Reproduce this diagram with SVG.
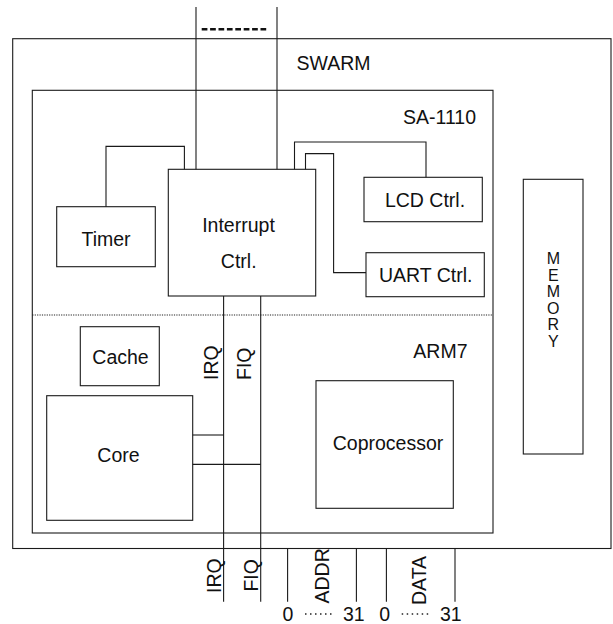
<svg xmlns="http://www.w3.org/2000/svg" width="613" height="624" viewBox="0 0 613 624">
<style>
.box{fill:none;stroke:#1a1a1a;stroke-width:1.1}
.ln{fill:none;stroke:#1a1a1a;stroke-width:1.1}
.t{font-family:"Liberation Sans",Arial,Helvetica,sans-serif;font-size:19.5px;fill:#111}
.m{text-anchor:middle}
.mem{font-family:"Liberation Sans",Arial,Helvetica,sans-serif;font-size:16px;fill:#111;text-anchor:middle}
</style>
<rect width="613" height="624" fill="#fff"/>
<g id="swarm">
<rect class="box" x="12.7" y="38.7" width="598.3" height="509.8"/>
<text class="t" x="296.5" y="70">SWARM</text>
</g>
<g id="sa1110">
<rect class="box" x="32.3" y="90.3" width="460.7" height="442.7"/>
<text class="t" x="476" y="124" text-anchor="end">SA-1110</text>
</g>
<g id="arm7">
<line x1="32.3" y1="315" x2="493" y2="315" stroke="#222" stroke-width="1.1" stroke-dasharray="1.2 1.2"/>
<text class="t" x="467.5" y="358.3" text-anchor="end">ARM7</text>
</g>
<g id="interrupt">
<rect class="box" x="168.3" y="169.3" width="147.4" height="126.7"/>
<text class="t m" x="238.5" y="231.7">Interrupt</text>
<text class="t m" x="238.7" y="267.7">Ctrl.</text>
</g>
<g id="timer">
<rect class="box" x="56.7" y="206.7" width="98.6" height="60"/>
<text class="t m" x="106" y="246">Timer</text>
</g>
<g id="lcd">
<rect class="box" x="364" y="177.3" width="118.3" height="44.4"/>
<text class="t m" x="425" y="207">LCD Ctrl.</text>
</g>
<g id="uart">
<rect class="box" x="366" y="252.7" width="118.3" height="44"/>
<text class="t m" x="425.7" y="281.7">UART Ctrl.</text>
</g>
<g id="cache">
<rect class="box" x="80.3" y="326.7" width="79" height="59"/>
<text class="t m" x="120.5" y="364">Cache</text>
</g>
<g id="core">
<rect class="box" x="46.7" y="395.7" width="146" height="124.6"/>
<text class="t m" x="118.5" y="461.7">Core</text>
</g>
<g id="coprocessor">
<rect class="box" x="316" y="380.7" width="137.3" height="127.6"/>
<text class="t m" x="388" y="450">Coprocessor</text>
</g>
<g id="memory">
<rect class="box" x="523.3" y="179.3" width="59.7" height="274.7"/>
<text class="mem" x="553.3" y="264">M</text>
<text class="mem" x="553.3" y="280.5">E</text>
<text class="mem" x="553.3" y="297">M</text>
<text class="mem" x="553.3" y="313.7">O</text>
<text class="mem" x="553.3" y="330.3">R</text>
<text class="mem" x="553.3" y="347">Y</text>
</g>
<g id="connectors">
<path class="ln" d="M196,7 V169.3"/>
<path class="ln" d="M277,7 V169.3"/>
<line x1="201.7" y1="29.3" x2="267.5" y2="29.3" stroke="#111" stroke-width="2.5" stroke-dasharray="5.7 2.7"/>
<path class="ln" d="M106,206.7 V146.4 H184.4 V169.3"/>
<path class="ln" d="M294.5,169.3 V142 H426 V177.3"/>
<path class="ln" d="M305.5,169.3 V153.6 H333.6 V272.6 H366"/>
<path class="ln" d="M223.6,296 V601.7"/>
<path class="ln" d="M260.7,296 V601.7"/>
<path class="ln" d="M192.7,435 H223.6"/>
<path class="ln" d="M192.7,464.4 H260.7"/>
<path class="ln" d="M287.6,548.5 V601.7"/>
<path class="ln" d="M356.4,548.5 V601.7"/>
<path class="ln" d="M386.4,548.5 V601.7"/>
<path class="ln" d="M455,548.5 V601.7"/>
<text class="t" transform="translate(218,380) rotate(-90)">IRQ</text>
<text class="t" transform="translate(250.7,380) rotate(-90)">FIQ</text>
<text class="t" transform="translate(221.4,593) rotate(-90)">IRQ</text>
<text class="t" transform="translate(258.3,591.6) rotate(-90)">FIQ</text>
<text class="t" transform="translate(328.5,603.5) rotate(-90)">ADDR</text>
<text class="t" transform="translate(426,605) rotate(-90)">DATA</text>
<text class="t" x="282.5" y="620.5">0</text>
<line x1="305" y1="614" x2="332" y2="614" stroke="#222" stroke-width="1.5" stroke-dasharray="1.5 3.5"/>
<text class="t" x="343" y="620.5">31</text>
<text class="t" x="379.3" y="620.5">0</text>
<line x1="401.7" y1="614" x2="428.7" y2="614" stroke="#222" stroke-width="1.5" stroke-dasharray="1.5 3.5"/>
<text class="t" x="440" y="620.5">31</text>
</g>
</svg>
